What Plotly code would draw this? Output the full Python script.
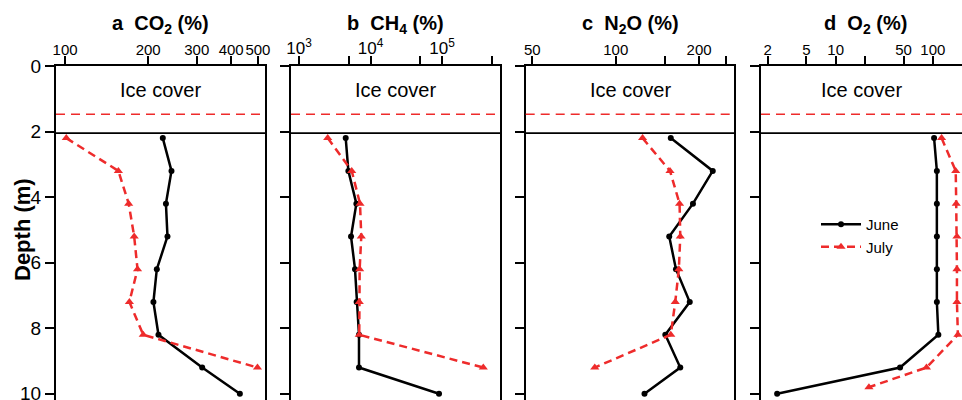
import plotly.graph_objects as go

# ---------------- data ----------------
depth_june = [2.2, 3.2, 4.2, 5.2, 6.2, 7.2, 8.2, 9.2, 10.0]
depth_july = [2.2, 3.2, 4.2, 5.2, 6.2, 7.2, 8.2, 9.2]
depth_july_o2 = [2.2, 3.2, 4.2, 5.2, 6.2, 7.2, 8.2, 9.2, 9.8]

co2_june = [226, 243, 232, 235, 215, 209, 218, 314, 430]
co2_july = [101, 156, 170, 178, 183, 171, 192, 498]

ch4_june = [4500, 4900, 6340, 5340, 6070, 6400, 6900, 6900, 90800]
ch4_july = [2520, 5460, 7130, 7430, 7050, 6960, 6960, 378000]

n2o_june = [158, 224, 190, 156, 165, 185, 151, 171, 127]
n2o_july = [125, 157, 170, 171, 169, 164, 158, 84]

o2_june = [103, 110, 110, 110, 110, 110, 114, 46, 2.5]
o2_july = [123, 172, 174, 177, 177, 177, 181, 86, 22]

panel_titles = ["<b>a\u00a0 CO<sub>2</sub> (%)</b>", "<b>b\u00a0 CH<sub>4</sub> (%)</b>",
                "<b>c\u00a0 N<sub>2</sub>O (%)</b>", "<b>d\u00a0 O<sub>2</sub> (%)</b>"]

x_tickvals = [
    [100, 200, 300, 400, 500],
    [1e3, 5e3, 1e4, 5e4, 1e5, 5e5],
    [50, 100, 150, 200, 250],
    [2, 5, 10, 20, 50, 100, 200],
]
x_ticktext = [
    ["100", "200", "300", "400", "500"],
    ["10<sup>3</sup>", "", "10<sup>4</sup>", "", "10<sup>5</sup>", ""],
    ["50", "100", "", "200", ""],
    ["2", "5", "10", "", "50", "100", ""],
]
x_ranges = [[1.967, 2.7246], [2.888, 5.811], [1.675, 2.428], [0.232, 2.300]]

y_tickvals = [0, 2, 4, 6, 8, 10]
ice_depth = 2.05
ice_dash_depth = 1.47
ice_label = "Ice cover"

# ---------------- layout helpers ----------------
W, H = 962, 400
MT = 66
domains = [[56 / W, 265 / W], [291 / W, 500 / W], [525.7 / W, 734.3 / W], [761 / W, 1.0]]
RED = "#ee2b2b"
FONT = "Liberation Sans, Arial, sans-serif"
tick_sizes = [15, 17, 15, 15]

june_sets = [co2_june, ch4_june, n2o_june, o2_june]
july_sets = [co2_july, ch4_july, n2o_july, o2_july]
july_depths = [depth_july, depth_july, depth_july, depth_july_o2]

fig = go.Figure()

for i in range(4):
    xa = "x" if i == 0 else f"x{i+1}"
    ya = "y" if i == 0 else f"y{i+1}"
    fig.add_trace(go.Scatter(
        x=june_sets[i], y=depth_june, xaxis=xa, yaxis=ya, name="June",
        mode="lines+markers", showlegend=(i == 0),
        line=dict(color="black", width=2.5),
        marker=dict(symbol="circle", size=6, color="black"),
    ))
    fig.add_trace(go.Scatter(
        x=july_sets[i], y=july_depths[i], xaxis=xa, yaxis=ya, name="July",
        mode="lines+markers", showlegend=(i == 0),
        line=dict(color=RED, width=2.5, dash="8px,5px"),
        marker=dict(symbol="triangle-up", size=8, color=RED),
    ))

layout = dict(
    width=W, height=H,
    margin=dict(l=0, r=0, t=MT, b=0, pad=0),
    plot_bgcolor="white", paper_bgcolor="white",
    font=dict(family=FONT, color="black"),
    showlegend=True,
    legend=dict(x=816 / W, y=(H - 208) / (H - MT), xanchor="left", yanchor="top",
                bgcolor="rgba(0,0,0,0)", font=dict(size=15), tracegroupgap=0,
                itemwidth=40),
)

for i in range(4):
    xkey = "xaxis" if i == 0 else f"xaxis{i+1}"
    ykey = "yaxis" if i == 0 else f"yaxis{i+1}"
    xa = "x" if i == 0 else f"x{i+1}"
    ya = "y" if i == 0 else f"y{i+1}"
    layout[xkey] = dict(
        type="log", range=x_ranges[i], domain=domains[i], anchor=ya, side="top",
        showline=True, linecolor="black", linewidth=2, mirror=False,
        ticks="outside", ticklen=8, tickwidth=2, tickcolor="black",
        tickvals=x_tickvals[i], ticktext=x_ticktext[i], tickangle=0,
        ticklabelstandoff=-5,
        tickfont=dict(size=tick_sizes[i]), showgrid=False, zeroline=False,
        automargin=False,
    )
    layout[ykey] = dict(
        range=[10.19, 0], domain=[0, 1], anchor=xa,
        showline=True, linecolor="black", linewidth=2, mirror=(i < 3),
        ticks="outside", ticklen=9, tickwidth=2, tickcolor="black",
        tickvals=y_tickvals, showticklabels=(i == 0), tickfont=dict(size=19),
        ticklabeloverflow="allow",
        showgrid=False, zeroline=False, automargin=False,
    )

fig.update_layout(**layout)

shapes = []
annotations = []
for i in range(4):
    xa = "x" if i == 0 else f"x{i+1}"
    ya = "y" if i == 0 else f"y{i+1}"
    shapes.append(dict(type="line", xref=f"{xa} domain", yref=ya, x0=0, x1=1,
                       y0=ice_depth, y1=ice_depth, line=dict(color="black", width=1.8)))
    shapes.append(dict(type="line", xref=f"{xa} domain", yref=ya, x0=0, x1=1,
                       y0=ice_dash_depth, y1=ice_dash_depth,
                       line=dict(color=RED, width=1.6, dash="9px,6px")))
    annotations.append(dict(text=ice_label, xref=f"{xa} domain", yref=ya, x=0.5, y=0.72,
                            showarrow=False, font=dict(size=20), xanchor="center", yanchor="middle"))
    annotations.append(dict(text=panel_titles[i], xref="paper", yref="paper",
                            x=(domains[i][0] + (domains[i][0] + 209 / W)) / 2,
                            y=(H - 25) / (H - MT), showarrow=False, font=dict(size=20),
                            xanchor="center", yanchor="middle"))

annotations.append(dict(text="<b>Depth (m)</b>", xref="paper", yref="paper",
                        x=22 / W, y=(H - 230) / (H - MT), textangle=-90, showarrow=False,
                        font=dict(size=22), xanchor="center", yanchor="middle"))

fig.update_layout(shapes=shapes, annotations=annotations)

fig.write_html("out.html")
